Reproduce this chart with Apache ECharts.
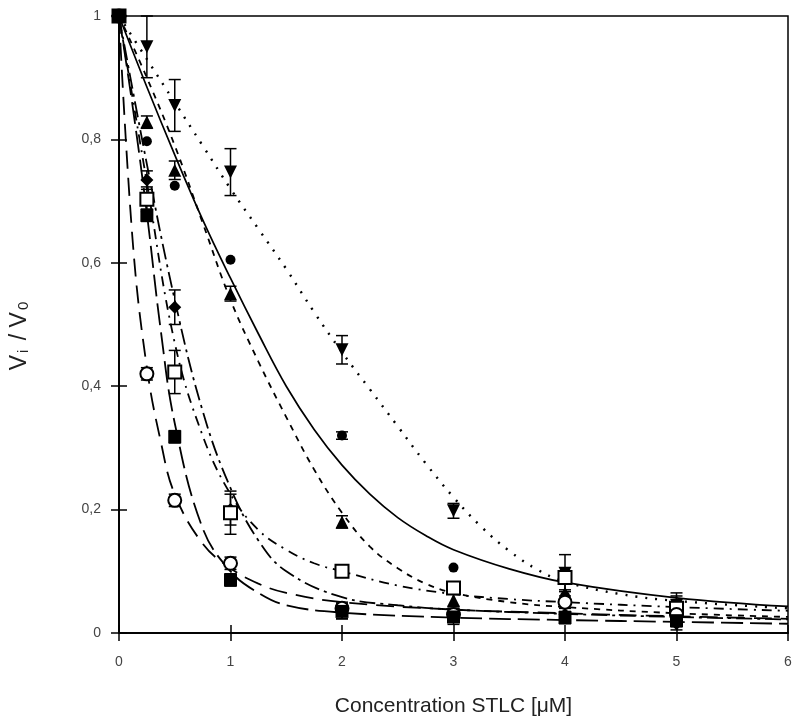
<!DOCTYPE html>
<html>
<head>
<meta charset="utf-8">
<script src="https://cdn.jsdelivr.net/npm/echarts@6/dist/echarts.min.js"></script>
<style>
  html, body { margin: 0; padding: 0; background: #fff; }
  #main { width: 795px; height: 726px; }
</style>
</head>
<body>
<div id="main"></div>
<script>
// measured concentrations (uM)
var conc = [0, 0.25, 0.5, 1, 2, 3, 4, 5]
var xTicks = ['0', '1', '2', '3', '4', '5', '6']

// Vi/V0 per data set + error
var downTri = [1, 0.95, 0.855, 0.747, 0.459, 0.198, 0.097, 0.045]
var downTriErr = [0, 0.05, 0.042, 0.038, 0.023, 0.012, 0.03, 0.02]
var dotCircle = [1, 0.797, 0.725, 0.605, 0.32, 0.106, 0.06, 0.04]
var dotCircleErr = [0, 0, 0, 0, 0.006, 0, 0.01, 0.01]
var upTri = [1, 0.828, 0.75, 0.55, 0.18, 0.053, 0.065, 0.035]
var upTriErr = [0, 0.01, 0.015, 0.012, 0.01, 0.01, 0.015, 0.01]
var diamond = [1, 0.734, 0.528, 0.2, 0.035, 0.03, 0.03, 0.015]
var diamondErr = [0, 0.015, 0.028, 0.025, 0.012, 0.01, 0.01, 0.01]
var openSq = [1, 0.703, 0.423, 0.195, 0.1, 0.073, 0.09, 0.04]
var openSqErr = [0, 0.02, 0.035, 0.035, 0.008, 0.01, 0.01, 0.02]
var openCirc = [1, 0.42, 0.215, 0.113, 0.04, 0.03, 0.05, 0.03]
var openCircErr = [0, 0.01, 0.01, 0.01, 0.01, 0.01, 0.01, 0.01]
var fillSq = [1, 0.677, 0.318, 0.086, 0.035, 0.026, 0.025, 0.02]
var fillSqErr = [0, 0.01, 0.01, 0.01, 0.012, 0.012, 0.01, 0.01]

// fitted curves
var fitDotX = [0, 0.25, 0.5, 0.75, 1, 1.25, 1.5, 1.75, 2, 2.25, 2.5, 2.75, 3, 3.25, 3.5, 3.75, 4, 4.5, 5, 6]
var fitDotY = [1, 0.93, 0.86, 0.79, 0.72, 0.655, 0.59, 0.52, 0.455, 0.395, 0.335, 0.275, 0.22, 0.172, 0.133, 0.103, 0.083, 0.063, 0.052, 0.04]
var fitSolidX = [0, 0.25, 0.5, 0.75, 1, 1.25, 1.5, 1.75, 2, 2.25, 2.5, 2.75, 3, 3.5, 4, 5, 6]
var fitSolidY = [1, 0.885, 0.775, 0.67, 0.575, 0.485, 0.4, 0.33, 0.272, 0.225, 0.187, 0.158, 0.135, 0.104, 0.082, 0.057, 0.043]
var fitShortX = [0, 0.25, 0.5, 0.75, 1, 1.25, 1.5, 1.75, 2, 2.25, 2.5, 2.75, 3, 3.5, 4, 5, 6]
var fitShortY = [1, 0.9, 0.79, 0.665, 0.54, 0.44, 0.35, 0.265, 0.195, 0.14, 0.105, 0.08, 0.065, 0.05, 0.042, 0.032, 0.026]
var fitDashDotX = [0, 0.25, 0.5, 0.75, 1, 1.25, 1.5, 1.75, 2, 2.5, 3, 3.5, 4, 5, 6]
var fitDashDotY = [1, 0.73, 0.47, 0.32, 0.225, 0.167, 0.135, 0.113, 0.1, 0.077, 0.063, 0.055, 0.05, 0.042, 0.036]
var fitDiamondX = [0, 0.25, 0.5, 0.75, 1, 1.25, 1.5, 2, 2.5, 3, 4, 5, 6]
var fitDiamondY = [1, 0.76, 0.54, 0.36, 0.235, 0.15, 0.1, 0.058, 0.045, 0.038, 0.031, 0.026, 0.022]
var fitOpenCircX = [0, 0.125, 0.25, 0.375, 0.5, 0.75, 1, 1.25, 1.5, 2, 3, 4, 5, 6]
var fitOpenCircY = [1, 0.63, 0.43, 0.31, 0.225, 0.145, 0.105, 0.08, 0.065, 0.05, 0.038, 0.032, 0.027, 0.023]
var fitFillSqX = [0, 0.125, 0.25, 0.375, 0.5, 0.75, 1, 1.25, 1.5, 2, 3, 4, 5, 6]
var fitFillSqY = [1, 0.85, 0.68, 0.49, 0.34, 0.17, 0.1, 0.065, 0.045, 0.033, 0.025, 0.021, 0.018, 0.015]

function pairs (xs, ys) {
  return xs.map(function (x, i) { return [x, ys[i]] })
}
function errPairs (ys, es) {
  var out = []
  conc.forEach(function (x, i) {
    if (es[i] > 0) out.push([x, ys[i], es[i]])
  })
  return out
}

var chart = echarts.init(document.getElementById('main'))

function points (data, symbol, size, rotate) {
  return {
    type: 'scatter',
    data: pairs(conc, data),
    symbol: symbol,
    symbolSize: size,
    symbolRotate: rotate || 0,
    itemStyle: { color: '#000', borderColor: '#000', borderWidth: symbol.indexOf('empty') === 0 ? 1.5 : 0, opacity: 1 },
    z: 5,
    silent: true
  }
}
function fit (xs, ys, dash, width) {
  return {
    type: 'line',
    data: pairs(xs, ys),
    showSymbol: false,
    smooth: 0.4,
    lineStyle: { color: '#000', width: width || 1.6, type: dash },
    z: 3,
    silent: true
  }
}
function bars (ys, es) {
  return {
    type: 'custom',
    data: errPairs(ys, es),
    renderItem: function (params, api) {
      var x = api.value(0)
      var lo = api.coord([x, api.value(1) - api.value(2)])
      var hi = api.coord([x, api.value(1) + api.value(2)])
      var cap = 6
      var st = { stroke: '#000', lineWidth: 1.5 }
      return {
        type: 'group',
        children: [
          { type: 'line', shape: { x1: lo[0], y1: lo[1], x2: hi[0], y2: hi[1] }, style: st },
          { type: 'line', shape: { x1: lo[0] - cap, y1: lo[1], x2: lo[0] + cap, y2: lo[1] }, style: st },
          { type: 'line', shape: { x1: hi[0] - cap, y1: hi[1], x2: hi[0] + cap, y2: hi[1] }, style: st }
        ]
      }
    },
    z: 4,
    silent: true
  }
}

var labelStyle = { color: '#444', fontSize: 14, fontFamily: 'Liberation Sans' }

chart.setOption({
  animation: false,
  backgroundColor: '#fff',
  grid: { left: 118, right: 7, top: 16, bottom: 93, show: true, borderColor: '#000', borderWidth: 1.5 },
  xAxis: [{
    type: 'value',
    min: 0,
    max: 6,
    interval: 1,
    axisLine: { lineStyle: { color: '#000', width: 1.5 } },
    axisTick: { inside: true, length: 8, lineStyle: { color: '#000', width: 1.5 } },
    axisLabel: Object.assign({ margin: 22, formatter: function (v) { return xTicks[v] } }, labelStyle),
    splitLine: { show: false },
    name: 'Concentration STLC [\u03bcM]',
    nameLocation: 'middle',
    nameGap: 63,
    nameTextStyle: { color: '#222', fontSize: 21, fontFamily: 'Liberation Sans' }
  }, {
    type: 'value',
    position: 'top',
    min: 0,
    max: 6,
    interval: 1,
    axisLine: { lineStyle: { color: '#000', width: 1.5 } },
    axisTick: { inside: true, length: 8, lineStyle: { color: '#000', width: 1.5 } },
    axisLabel: { show: false },
    splitLine: { show: false }
  }],
  yAxis: [{
    type: 'value',
    min: 0,
    max: 1,
    interval: 0.2,
    axisLine: { lineStyle: { color: '#000', width: 1.5 } },
    axisTick: { inside: true, length: 8, lineStyle: { color: '#000', width: 1.5 } },
    axisLabel: Object.assign({ margin: 18, formatter: function (v) { return String(+v.toFixed(1)).replace('.', ',') } }, labelStyle),
    splitLine: { show: false },
    name: '{v|V}{s|i}{v| / V}{s|0}',
    nameLocation: 'middle',
    nameRotate: 90,
    nameGap: 88,
    nameTextStyle: {
      color: '#222',
      fontFamily: 'Liberation Sans',
      padding: [0, 20, 0, 0],
      rich: {
        v: { fontSize: 23, fontFamily: 'Liberation Sans', color: '#222' },
        s: { fontSize: 15, fontFamily: 'Liberation Sans', color: '#222', padding: [8, 3, 0, 2] }
      }
    }
  }, {
    type: 'value',
    position: 'right',
    min: 0,
    max: 1,
    interval: 0.2,
    axisLine: { lineStyle: { color: '#000', width: 1.5 } },
    axisTick: { inside: true, length: 8, lineStyle: { color: '#000', width: 1.5 } },
    axisLabel: { show: false },
    splitLine: { show: false }
  }],
  series: [
    fit(fitDotX, fitDotY, [2, 8], 2.4),
    fit(fitSolidX, fitSolidY, 'solid', 1.7),
    fit(fitShortX, fitShortY, [6, 6], 1.8),
    fit(fitDashDotX, fitDashDotY, [10, 6, 2, 6], 1.8),
    fit(fitDiamondX, fitDiamondY, [16, 5, 3, 5], 1.8),
    fit(fitOpenCircX, fitOpenCircY, [18, 9], 1.8),
    fit(fitFillSqX, fitFillSqY, [22, 7], 1.8),
    bars(downTri, downTriErr),
    bars(dotCircle, dotCircleErr),
    bars(upTri, upTriErr),
    bars(diamond, diamondErr),
    bars(openSq, openSqErr),
    bars(openCirc, openCircErr),
    bars(fillSq, fillSqErr),
    points(downTri, 'triangle', 13, 180),
    points(dotCircle, 'circle', 10),
    points(upTri, 'triangle', 13),
    points(diamond, 'diamond', 13),
    points(openSq, 'emptyRect', 13),
    points(openCirc, 'emptyCircle', 13),
    points(fillSq, 'rect', 13)
  ]
})
</script>
</body>
</html>
